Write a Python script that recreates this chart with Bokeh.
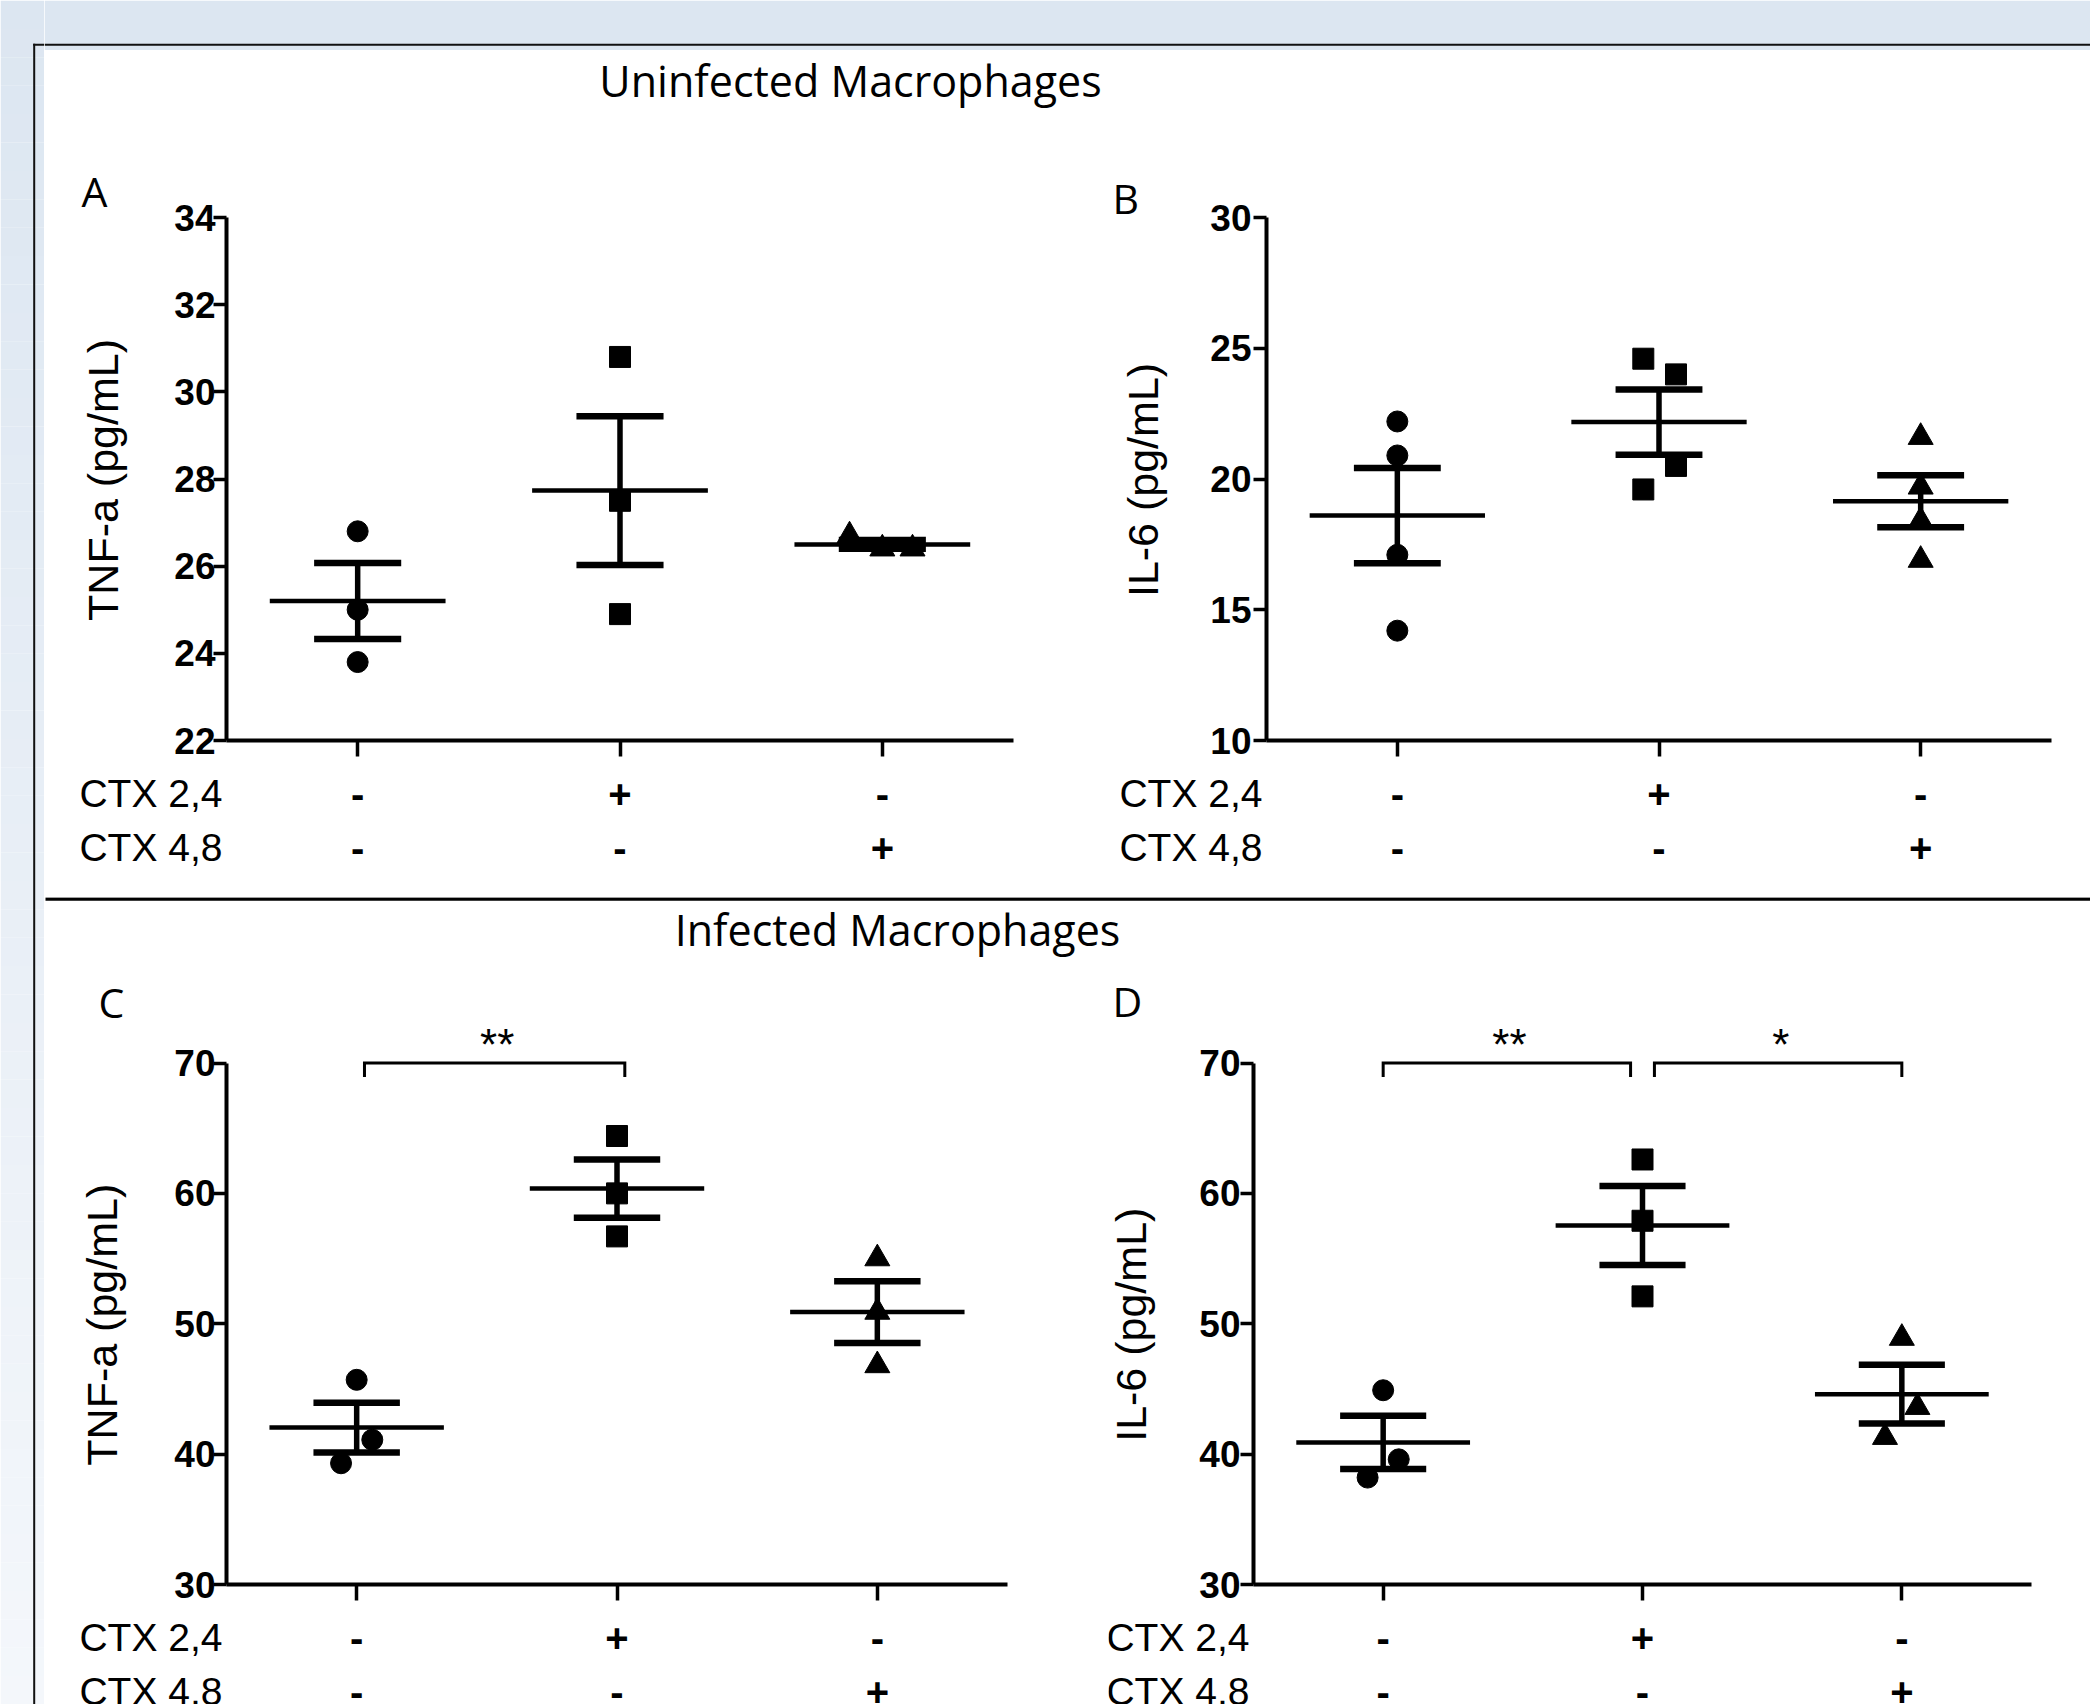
import numpy as np
from bokeh.plotting import figure
from bokeh.layouts import column, row
from bokeh.models import FixedTicker
from bokeh.core.properties import value
from bokeh.embed import file_html
from bokeh.resources import INLINE

# ---------------- data ----------------
groups = [1, 2, 3]
ctx24 = ["-", "+", "-"]
ctx48 = ["-", "-", "+"]
row_labels = ["CTX 2,4", "CTX 4,8"]
section_titles = ["Uninfected Macrophages", "Infected Macrophages"]
panel_letters = ["A", "B", "C", "D"]
y_labels = ["TNF-a  (pg/mL)", "IL-6  (pg/mL)", "TNF-a  (pg/mL)", "IL-6  (pg/mL)"]

A_ctrl = [26.8, 25.0, 23.8]
A_c24 = [30.8, 27.5, 24.9]
A_c48 = [26.7, 26.4, 26.4]
A_ticks = [22, 24, 26, 28, 30, 32, 34]

B_ctrl = [22.2, 20.9, 17.1, 14.2]
B_c24 = [24.6, 24.0, 20.5, 19.6]
B_c48 = [21.6, 19.7, 18.4, 16.9]
B_ticks = [10, 15, 20, 25, 30]

C_ctrl = [45.7, 41.1, 39.3]
C_c24 = [64.4, 60.0, 56.7]
C_c48 = [55.0, 50.9, 46.8]
C_ticks = [30, 40, 50, 60, 70]
C_sig = [(1, 2, "**")]

D_ctrl = [44.9, 39.6, 38.2]
D_c24 = [62.6, 57.9, 52.1]
D_c48 = [48.9, 43.6, 41.3]
D_ticks = [30, 40, 50, 60, 70]
D_sig = [(1, 2, "**"), (2, 3, "*")]

# ---------------- style ----------------
TITLE_FONT = "Open Sans"
SANS = "Liberation Sans"
MARKERS = ["circle", "square", "triangle"]
MSIZE = {"circle": 21, "square": 21, "triangle": 25}
BG_TOP = np.array([220, 230, 241])
BG_BOT = np.array([244, 247, 251])
W, H = 2090, 1704


def plain(p):
    p.outline_line_color = None
    p.background_fill_color = "white"
    p.border_fill_color = "white"
    return p


def strip(x0, y0, w, h):
    p = figure(width=w, height=h, x_range=(x0, x0 + w), y_range=(y0 + h, y0),
               x_axis_type=None, y_axis_type=None, min_border=0,
               output_backend="svg", toolbar_location=None)
    return plain(p)


def bg_color(y):
    t = y / 1708.0
    c = BG_TOP + (BG_BOT - BG_TOP) * t
    return "#%02x%02x%02x" % tuple(int(round(v)) for v in c)


# left strip (x 0..44)
left = strip(0, 0, 44, H)
nb = 60
edges = np.linspace(0, H, nb + 1)
left.quad(left=[0] * nb, right=[44] * nb, top=list(edges[:-1]), bottom=list(edges[1:]),
          fill_color=[bg_color((a + b) / 2) for a, b in zip(edges[:-1], edges[1:])], line_color=None)
left.segment(x0=[33.7], y0=[43.3], x1=[33.7], y1=[H], line_color="#111111", line_width=2)
left.segment(x0=[32.7], y0=[44.3], x1=[44], y1=[44.3], line_color="#111111", line_width=2)

# top strip (x 44..W, y 0..50)
top = strip(44, 0, W - 44, 50)
top.quad(left=[44], right=[W], top=[0], bottom=[50], fill_color=bg_color(25), line_color=None)
top.segment(x0=[44], y0=[44.3], x1=[W], y1=[44.3], line_color="#111111", line_width=2)

# title strips
t1 = strip(44, 50, W - 44, 65)
t1.text(x=[850], y=[80], text=[section_titles[0]], text_font=value(TITLE_FONT),
        text_font_size="43px", text_align="center", text_baseline="middle", text_color="black")

t2 = strip(44, 897, W - 44, 63)
t2.segment(x0=[45], y0=[898.5], x1=[W], y1=[898.5], line_color="black", line_width=3.5)
t2.text(x=[897], y=[928.5], text=[section_titles[1]], text_font=value(TITLE_FONT),
        text_font_size="43px", text_align="center", text_baseline="middle", text_color="black")


def panel(letter, ylabel, fig_box, frame_box, yr, ticks, series, jitters, sigs,
          tick_standoff, letter_pos, ylabel_x):
    fx0, fy0, fw, fh = fig_box
    l, t, r, b = frame_box
    ppx = (r - l) / 3.0
    ppy = (b - t) / float(yr[1] - yr[0])

    def px2x(px):
        return 0.5 + (px - l) / ppx

    def py2y(py):
        return yr[0] + (b - py) / ppy

    p = figure(width=fw, height=fh, x_range=(px2x(fx0), px2x(fx0 + fw)),
               y_range=(py2y(fy0 + fh), py2y(fy0)), min_border=0,
               output_backend="svg", toolbar_location=None)
    plain(p)
    p.grid.visible = False

    # axes fixed at the data box edges
    for ax in (p.xaxis[0], p.yaxis[0]):
        ax.axis_line_width = 4
        ax.axis_line_color = "black"
        ax.major_tick_line_width = 3.5
        ax.major_tick_line_color = "black"
        ax.minor_tick_line_color = None
        ax.major_tick_in = 0
    p.xaxis.fixed_location = yr[0]
    p.xaxis.bounds = (0.5, 3.5)
    p.xaxis.ticker = FixedTicker(ticks=groups)
    p.xaxis.major_tick_out = 16
    p.xaxis.major_label_text_color = None
    p.yaxis.fixed_location = 0.5
    p.yaxis.bounds = (yr[0], yr[1])
    p.yaxis.ticker = FixedTicker(ticks=ticks)
    p.yaxis.major_tick_out = 13
    p.yaxis.major_label_text_font = SANS
    p.yaxis.major_label_text_font_style = "bold"
    p.yaxis.major_label_text_font_size = "37px"
    p.yaxis.major_label_text_color = "black"
    p.yaxis.major_label_standoff = tick_standoff

    # y label (rotated text)
    p.text(x=[px2x(ylabel_x)], y=[py2y((t + b) / 2.0 - 5)], text=[ylabel], angle=np.pi / 2,
           text_font=value(SANS), text_font_size="43px", text_align="center",
           text_baseline="middle", text_color="black")

    # points, mean and SEM
    for g, vals, mk, jit in zip(groups, series, MARKERS, jitters):
        vals = np.array(vals, dtype=float)
        xs = [g + j for j in jit]
        p.scatter(xs, list(vals), marker=mk, size=MSIZE[mk], fill_color="black", line_color="black")
        m = vals.mean()
        s = vals.std(ddof=1) / np.sqrt(len(vals))
        p.segment(x0=[g - 0.335], y0=[m], x1=[g + 0.335], y1=[m], line_color="black", line_width=4.5)
        p.segment(x0=[g], y0=[m - s], x1=[g], y1=[m + s], line_color="black", line_width=5.5)
        p.segment(x0=[g - 0.166, g - 0.166], y0=[m - s, m + s], x1=[g + 0.166, g + 0.166],
                  y1=[m - s, m + s], line_color="black", line_width=6.5)

    # significance brackets
    for k, (ga, gb, star) in enumerate(sigs):
        if len(sigs) > 1:
            xa = ga + (0.046 if k == 1 else 0.0)
            xb = gb - (0.046 if k == 0 else 0.0)
        else:
            xa, xb = ga + 0.03, gb + 0.03
        top_y = ticks[-1]
        leg = 14 / ppy
        p.line([xa, xa, xb, xb], [top_y - leg, top_y, top_y, top_y - leg], line_color="black",
               line_width=3, line_join="miter")
        p.text(x=[(xa + xb) / 2 + 0.01], y=[top_y + 19 / ppy], text=[star], text_align="center",
               text_baseline="middle", text_font=value(SANS), text_font_size="44px",
               text_color="black")

    # CTX rows below the x axis
    for i, (lab, syms) in enumerate(zip(row_labels, [ctx24, ctx48])):
        yrow = py2y(b + 53 + 54 * i)
        p.text(x=[px2x(l - 4)], y=[yrow], text=[lab], text_align="right", text_baseline="middle",
               text_font=value(SANS), text_font_size="39px", text_color="black")
        p.text(x=groups, y=[yrow] * 3, text=syms, text_align="center", text_baseline="middle",
               text_font=value(SANS), text_font_style="bold", text_font_size="40px",
               text_color="black")

    # panel letter
    p.text(x=[px2x(letter_pos[0])], y=[py2y(letter_pos[1])], text=[letter], text_align="left",
           text_baseline="middle", text_font=value(TITLE_FONT), text_font_size="41px",
           text_color="black")
    return p


z3 = [0, 0, 0]
pA = panel(panel_letters[0], y_labels[0], (44, 115, 1064, 782), (226, 217, 1013, 740), (22, 34), A_ticks,
           [A_ctrl, A_c24, A_c48], [z3, z3, [-0.125, 0, 0.115]], [], -2, (81, 190), 102)
pB = panel(panel_letters[1], y_labels[1], (1108, 115, W - 1108, 782), (1266, 217, 2051, 740), (10, 30), B_ticks,
           [B_ctrl, B_c24, B_c48], [[0] * 4, [-0.06, 0.065, 0.065, -0.06], [0] * 4], [], 2, (1112, 197), 1142)
pC = panel(panel_letters[2], y_labels[2], (44, 960, 1064, H - 960), (226, 1062.5, 1007, 1584), (30, 70), C_ticks,
           [C_ctrl, C_c24, C_c48], [[0, 0.06, -0.06], z3, z3], C_sig, -2, (98, 1001), 101)
pD = panel(panel_letters[3], y_labels[3], (1108, 960, W - 1108, H - 960), (1253, 1062.5, 2031, 1584), (30, 70),
           D_ticks, [D_ctrl, D_c24, D_c48], [[0, 0.06, -0.06], z3, [0, 0.06, -0.065]], D_sig, 0,
           (1112, 1000), 1130)

right_col = column(top, t1, row(pA, pB, spacing=0), t2, row(pC, pD, spacing=0), spacing=0)
root = row(left, right_col, spacing=0)

open("out.html", "w").write(file_html(root, INLINE))
